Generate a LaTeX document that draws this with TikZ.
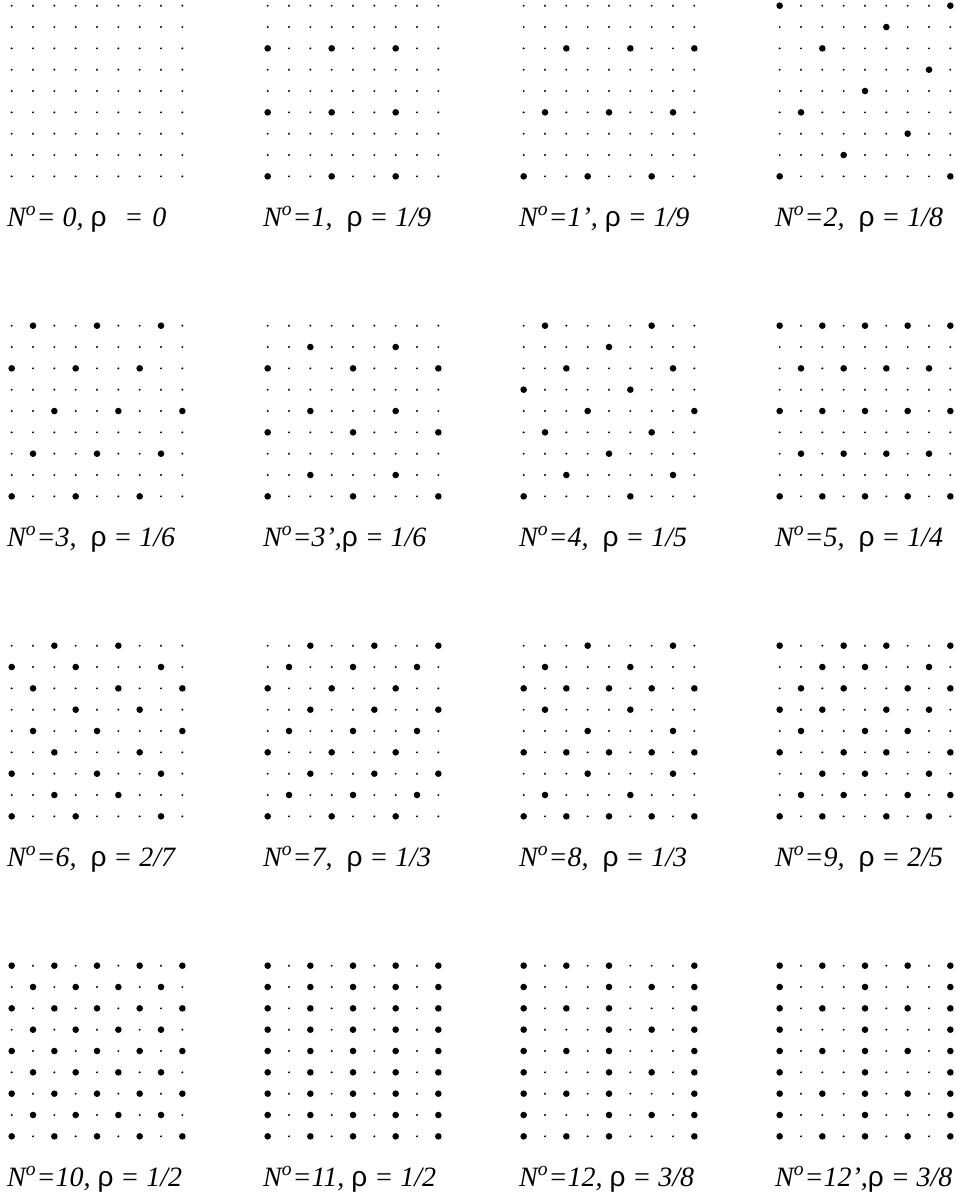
\documentclass[tikz,border=0pt]{standalone}
\usepackage{fontspec}
\setmainfont{Liberation Serif}
\newfontfamily\rhofont{Liberation Sans}
\newcommand{\rh}{{\rhofont\upshape ρ}}

\begin{document}
\begin{tikzpicture}[x=10.667pt, y=10.667pt]

\useasboundingbox (-0.548,0.267) rectangle (44.594,-56.125);

% occupied sites of a 9x9 lattice, read row by row from the top
% (1 = big dot, 0 = empty site).
\def\maskzero{{0,0,0,0,0,0,0,0,0,0,0,0,0,0,0,0,0,0,0,0,0,0,0,0,0,0,0,%
0,0,0,0,0,0,0,0,0,0,0,0,0,0,0,0,0,0,0,0,0,0,0,0,0,0,0,%
0,0,0,0,0,0,0,0,0,0,0,0,0,0,0,0,0,0,0,0,0,0,0,0,0,0,0}}
\def\maskone{{0,0,0,0,0,0,0,0,0,0,0,0,0,0,0,0,0,0,1,0,0,1,0,0,1,0,0,%
0,0,0,0,0,0,0,0,0,0,0,0,0,0,0,0,0,0,1,0,0,1,0,0,1,0,0,%
0,0,0,0,0,0,0,0,0,0,0,0,0,0,0,0,0,0,1,0,0,1,0,0,1,0,0}}
\def\maskonep{{0,0,0,0,0,0,0,0,0,0,0,0,0,0,0,0,0,0,0,0,1,0,0,1,0,0,1,%
0,0,0,0,0,0,0,0,0,0,0,0,0,0,0,0,0,0,0,1,0,0,1,0,0,1,0,%
0,0,0,0,0,0,0,0,0,0,0,0,0,0,0,0,0,0,1,0,0,1,0,0,1,0,0}}
\def\masktwo{{1,0,0,0,0,0,0,0,1,0,0,0,0,0,1,0,0,0,0,0,1,0,0,0,0,0,0,%
0,0,0,0,0,0,0,1,0,0,0,0,0,1,0,0,0,0,0,1,0,0,0,0,0,0,0,%
0,0,0,0,0,0,1,0,0,0,0,0,1,0,0,0,0,0,1,0,0,0,0,0,0,0,1}}
\def\maskthree{{0,1,0,0,1,0,0,1,0,0,0,0,0,0,0,0,0,0,1,0,0,1,0,0,1,0,0,%
0,0,0,0,0,0,0,0,0,0,0,1,0,0,1,0,0,1,0,0,0,0,0,0,0,0,0,%
0,1,0,0,1,0,0,1,0,0,0,0,0,0,0,0,0,0,1,0,0,1,0,0,1,0,0}}
\def\maskthreep{{0,0,0,0,0,0,0,0,0,0,0,1,0,0,0,1,0,0,1,0,0,0,1,0,0,0,1,%
0,0,0,0,0,0,0,0,0,0,0,1,0,0,0,1,0,0,1,0,0,0,1,0,0,0,1,%
0,0,0,0,0,0,0,0,0,0,0,1,0,0,0,1,0,0,1,0,0,0,1,0,0,0,1}}
\def\maskfour{{0,1,0,0,0,0,1,0,0,0,0,0,0,1,0,0,0,0,0,0,1,0,0,0,0,1,0,%
1,0,0,0,0,1,0,0,0,0,0,0,1,0,0,0,0,1,0,1,0,0,0,0,1,0,0,%
0,0,0,0,1,0,0,0,0,0,0,1,0,0,0,0,1,0,1,0,0,0,0,1,0,0,0}}
\def\maskfive{{1,0,1,0,1,0,1,0,1,0,0,0,0,0,0,0,0,0,0,1,0,1,0,1,0,1,0,%
0,0,0,0,0,0,0,0,0,1,0,1,0,1,0,1,0,1,0,0,0,0,0,0,0,0,0,%
0,1,0,1,0,1,0,1,0,0,0,0,0,0,0,0,0,0,1,0,1,0,1,0,1,0,1}}
\def\masksix{{0,0,1,0,0,1,0,0,0,1,0,0,1,0,0,0,1,0,0,1,0,0,0,1,0,0,1,%
0,0,0,1,0,0,1,0,0,0,1,0,0,1,0,0,0,1,0,0,1,0,0,0,1,0,0,%
1,0,0,0,1,0,0,1,0,0,0,1,0,0,1,0,0,0,1,0,0,1,0,0,0,1,0}}
\def\maskseven{{0,0,1,0,0,1,0,0,1,0,1,0,0,1,0,0,1,0,1,0,0,1,0,0,1,0,0,%
0,0,1,0,0,1,0,0,1,0,1,0,0,1,0,0,1,0,1,0,0,1,0,0,1,0,0,%
0,0,1,0,0,1,0,0,1,0,1,0,0,1,0,0,1,0,1,0,0,1,0,0,1,0,0}}
\def\maskeight{{0,0,0,1,0,0,0,1,0,0,1,0,0,0,1,0,0,0,1,0,1,0,1,0,1,0,1,%
0,1,0,0,0,1,0,0,0,0,0,0,1,0,0,0,1,0,1,0,1,0,1,0,1,0,1,%
0,0,0,1,0,0,0,1,0,0,1,0,0,0,1,0,0,0,1,0,1,0,1,0,1,0,1}}
\def\masknine{{1,0,0,1,0,1,0,0,1,0,0,1,0,1,0,0,1,0,0,1,0,1,0,0,1,0,1,%
1,0,1,0,0,1,0,1,0,0,1,0,0,1,0,1,0,0,1,0,0,1,0,1,0,0,1,%
0,0,1,0,1,0,0,1,0,0,1,0,1,0,0,1,0,1,1,0,1,0,0,1,0,1,0}}
\def\maskten{{1,0,1,0,1,0,1,0,1,0,1,0,1,0,1,0,1,0,1,0,1,0,1,0,1,0,1,%
0,1,0,1,0,1,0,1,0,1,0,1,0,1,0,1,0,1,0,1,0,1,0,1,0,1,0,%
1,0,1,0,1,0,1,0,1,0,1,0,1,0,1,0,1,0,1,0,1,0,1,0,1,0,1}}
\def\maskeleven{{1,0,1,0,1,0,1,0,1,1,0,1,0,1,0,1,0,1,1,0,1,0,1,0,1,0,1,%
1,0,1,0,1,0,1,0,1,1,0,1,0,1,0,1,0,1,1,0,1,0,1,0,1,0,1,%
1,0,1,0,1,0,1,0,1,1,0,1,0,1,0,1,0,1,1,0,1,0,1,0,1,0,1}}
\def\masktwelve{{1,0,1,0,1,0,0,0,1,1,0,0,0,1,0,1,0,1,1,0,1,0,1,0,0,0,1,%
1,0,0,0,1,0,1,0,1,1,0,1,0,1,0,0,0,1,1,0,0,0,1,0,1,0,1,%
1,0,1,0,1,0,0,0,1,1,0,0,0,1,0,1,0,1,1,0,1,0,1,0,0,0,1}}
\def\masktwelvep{{1,0,1,0,1,0,1,0,1,1,0,0,0,1,0,0,0,1,1,0,1,0,1,0,1,0,1,%
1,0,0,0,1,0,0,0,1,1,0,1,0,1,0,1,0,1,1,0,0,0,1,0,0,0,1,%
1,0,1,0,1,0,1,0,1,1,0,0,0,1,0,0,0,1,1,0,1,0,1,0,1,0,1}}

\foreach \pid/\mask/\lab in {%
  0/\maskzero/{N\textsuperscript{o}=~0,~\rh~~\hspace{2pt}=~\hspace{1pt}0},
  1/\maskone/{N\textsuperscript{o}=1,~~\rh~=~1/9},
  2/\maskonep/{N\textsuperscript{o}=1’,~\rh~=~1/9},
  3/\masktwo/{N\textsuperscript{o}=2,~~\rh~=~1/8},
  4/\maskthree/{N\textsuperscript{o}=3,~~\rh~=~1/6},
  5/\maskthreep/{N\textsuperscript{o}=3’,\rh~=~1/6},
  6/\maskfour/{N\textsuperscript{o}=4,~~\rh~=~1/5},
  7/\maskfive/{N\textsuperscript{o}=5,~~\rh~=~1/4},
  8/\masksix/{N\textsuperscript{o}=6,~~\rh~=~2/7},
  9/\maskseven/{N\textsuperscript{o}=7,~~\rh~=~1/3},
  10/\maskeight/{N\textsuperscript{o}=8,~~\rh~=~1/3},
  11/\masknine/{N\textsuperscript{o}=9,~~\rh~=~2/5},
  12/\maskten/{N\textsuperscript{o}=10,~\rh~=~1/2},
  13/\maskeleven/{N\textsuperscript{o}=11,~\rh~=~1/2},
  14/\masktwelve/{N\textsuperscript{o}=12,~\rh~=~3/8},
  15/\masktwelvep/{N\textsuperscript{o}=12’,\rh~=~3/8}} {%
  \pgfmathtruncatemacro{\gr}{int(\pid / 4)}%
  \pgfmathtruncatemacro{\gc}{int(mod(\pid, 4))}%
  \pgfmathsetmacro{\dx}{\gc * 12}%
  \pgfmathsetmacro{\dy}{-\gr * 15}%
  % lattice sites
  \foreach \r in {0,...,8} {%
    \foreach \c in {0,...,8} {%
      \pgfmathtruncatemacro{\idx}{\r*9+\c}%
      \pgfmathtruncatemacro{\on}{\mask[\idx]}%
      \ifnum\on=1
        \fill[black] (\dx+\c, \dy-\r) circle[radius=1.65pt];
      \else
        \fill[black] (\dx+\c, \dy-\r) circle[radius=0.55pt];
      \fi
    }
  }
  % caption
  \node[anchor=base west, inner sep=0pt, font=\itshape\fontsize{14}{16}\selectfont]
    (cap\pid) at (\dx-0.23, \dy-10.33) {\lab};
}

\end{tikzpicture}
\end{document}
